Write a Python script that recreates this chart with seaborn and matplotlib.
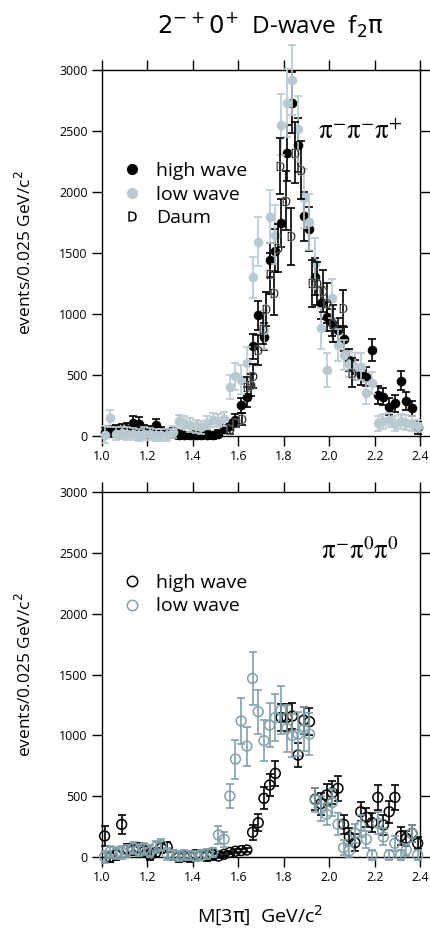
import matplotlib
matplotlib.use("Agg")
import matplotlib.pyplot as plt
import seaborn as sns
from matplotlib.lines import Line2D

# ---------------- data ----------------
mass = [1.0125, 1.0375, 1.0625, 1.0875, 1.1125, 1.1375, 1.1625, 1.1875, 1.2125, 1.2375,
        1.2625, 1.2875, 1.3125, 1.3375, 1.3625, 1.3875, 1.4125, 1.4375, 1.4625, 1.4875,
        1.5125, 1.5375, 1.5625, 1.5875, 1.6125, 1.6375, 1.6625, 1.6875, 1.7125, 1.7375,
        1.7625, 1.7875, 1.8125, 1.8375, 1.8625, 1.8875, 1.9125, 1.9375, 1.9625, 1.9875,
        2.0125, 2.0375, 2.0625, 2.0875, 2.1125, 2.1375, 2.1625, 2.1875, 2.2125, 2.2375,
        2.2625, 2.2875, 2.3125, 2.3375, 2.3625, 2.3875]

# pi- pi- pi+  (top panel)
top_high = [30, 40, 45, 50, 60, 110, 100, 45, 40, 90,
            30, 20, 25, 10, 5, 5, 10, 5, 10, 5,
            20, 60, 90, 130, 250, 320, 735, 990, 815, 1443,
            1520, 1745, 2320, 2730, 2385, 1800, 1700, 1306, 1088, 978,
            930, 869, 793, 623, 540, 500, 486, 705, 336, 322,
            240, 268, 453, 287, 227, 70]
top_high_err = [40, 45, 45, 45, 50, 55, 55, 45, 45, 50,
                45, 40, 40, 35, 30, 30, 30, 30, 30, 30,
                30, 35, 40, 50, 60, 80, 100, 120, 110, 140,
                180, 200, 230, 250, 220, 200, 180, 150, 130, 120,
                110, 100, 100, 90, 80, 80, 80, 90, 70, 70,
                70, 70, 80, 70, 60, 50]
top_low = [10, 145, 20, 25, 20, 15, 10, 20, 15, 10,
           10, 5, 30, 120, 110, 90, 80, 70, 110, 130,
           125, 140, 400, 490, 460, 600, 1300, 1593, 870, 1798,
           1650, 2549, 2727, 2918, 2514, 1948, 1757, 1415, 882, 541,
           1128, 746, 664, 590, 568, 568, 350, 437, 104, 120,
           130, 100, 120, 110, 100, 80]
top_low_err = [70, 70, 50, 50, 50, 50, 50, 50, 50, 50,
               50, 50, 50, 55, 55, 55, 55, 55, 55, 55,
               55, 55, 100, 110, 120, 130, 170, 200, 160, 220,
               240, 250, 280, 290, 270, 240, 230, 210, 170, 140,
               160, 130, 120, 110, 110, 110, 90, 90, 60, 60,
               60, 60, 60, 60, 60, 50]
daum_mass = [1.565, 1.59, 1.615, 1.64, 1.655, 1.665, 1.685, 1.71, 1.72, 1.74,
             1.755, 1.775, 1.785, 1.81, 1.83, 1.85, 1.875, 1.925, 1.945, 1.97,
             1.99, 2.015, 2.06, 2.1]
daum = [60, 110, 140, 400, 420, 490, 705, 880, 1040, 1330,
        1170, 1540, 2210, 1930, 1635, 2320, 2180, 1250, 1250, 1190,
        1090, 920, 1050, 520]
daum_err = [40, 40, 50, 80, 90, 100, 120, 130, 140, 170,
            180, 200, 230, 240, 230, 250, 240, 190, 180, 170,
            160, 150, 150, 120]

# pi- pi0 pi0  (bottom panel)
bot_high = [175, 0, 20, 270, 70, 60, 80, 50, 20, 40,
            75, 85, 20, 0, 10, 5, 20, 15, 10, 20,
            10, 25, 40, 50, 55, 60, 205, 284, 484, 593,
            689, 1148, 1148, 1159, 839, 1126, 1113, 476, 440, 511,
            530, 566, 271, 169, 120, 374, 328, 284, 492, 265,
            374, 492, 175, 156, 197, 115]
bot_high_err = [80, 40, 40, 80, 40, 40, 40, 40, 40, 40,
                40, 40, 40, 40, 40, 40, 40, 40, 40, 40,
                15, 15, 15, 15, 15, 15, 60, 70, 90, 90,
                100, 110, 110, 110, 100, 110, 110, 90, 90, 90,
                95, 100, 80, 70, 70, 80, 80, 80, 100, 80,
                90, 100, 70, 60, 70, 50]
bot_low = [5, 45, 35, 40, 55, 75, 60, 70, 50, 85,
           100, 30, 20, 10, 20, 15, 10, 20, 30, 40,
           183, 148, 503, 806, 1119, 913, 1468, 1195, 957, 1085,
           1148, 1208, 1058, 1000, 1010, 1050, 1011, 470, 400, 353,
           450, 271, 79, 54, 197, 260, 148, 19, 280, 167,
           19, 115, 19, 60, 195, 19]
bot_low_err = [50, 50, 50, 50, 50, 50, 50, 50, 50, 50,
               50, 50, 40, 40, 40, 40, 40, 40, 40, 40,
               70, 60, 100, 160, 190, 160, 220, 180, 170, 180,
               190, 200, 190, 180, 180, 180, 170, 100, 100, 90,
               110, 90, 60, 50, 80, 90, 70, 40, 90, 70,
               40, 60, 40, 50, 70, 40]

x_ticks = [1.0, 1.2, 1.4, 1.6, 1.8, 2.0, 2.2, 2.4]
x_tick_labels = ["1.0", "1.2", "1.4", "1.6", "1.8", "2.0", "2.2", "2.4"]
y_ticks = [0, 500, 1000, 1500, 2000, 2500, 3000]
y_tick_labels = ["0", "500", "1000", "1500", "2000", "2500", "3000"]

# ---------------- style ----------------
sns.set_style("ticks")
plt.rcParams["font.family"] = ["Open Sans", "DejaVu Sans"]
plt.rcParams["axes.linewidth"] = 1.0
plt.rcParams["text.color"] = "black"
plt.rcParams["axes.labelcolor"] = "black"
plt.rcParams["xtick.color"] = "black"
plt.rcParams["ytick.color"] = "black"

BLACK = "#000000"
LIGHT = "#b9c9d1"
SLATE = "#82a0aa"

fig = plt.figure(figsize=(4.31, 9.39), dpi=100)
ax1 = fig.add_axes([0.236, 0.5357, 0.7396, 0.3898])
ax2 = fig.add_axes([0.236, 0.0870, 0.7396, 0.3893])


def errs(ax, x, y, e, c, z):
    ax.errorbar(x, y, yerr=e, fmt="none", ecolor=c, elinewidth=1.2,
                capsize=3.2, capthick=1.2, zorder=z, clip_on=False)


# top panel
errs(ax1, mass, top_high, top_high_err, BLACK, 2)
sns.scatterplot(x=mass, y=top_high, ax=ax1, color=BLACK, s=48, linewidth=0,
                zorder=3, legend=False, clip_on=False)
errs(ax1, mass, top_low, top_low_err, LIGHT, 4)
sns.scatterplot(x=mass, y=top_low, ax=ax1, color=LIGHT, s=48, linewidth=0,
                zorder=5, legend=False, clip_on=False)
errs(ax1, daum_mass, daum, daum_err, BLACK, 6)
sns.scatterplot(x=daum_mass, y=daum, ax=ax1, color=BLACK, marker=r"$\mathsf{D}$",
                s=45, linewidth=0.2, zorder=7, legend=False, clip_on=False)

# bottom panel
errs(ax2, mass, bot_high, bot_high_err, BLACK, 2)
sns.scatterplot(x=mass, y=bot_high, ax=ax2, color=BLACK, facecolor="none",
                edgecolor=BLACK, s=50, linewidth=1.1, zorder=3, legend=False,
                clip_on=False)
errs(ax2, mass, bot_low, bot_low_err, SLATE, 4)
sns.scatterplot(x=mass, y=bot_low, ax=ax2, color=SLATE, facecolor="none",
                edgecolor=SLATE, s=50, linewidth=1.1, zorder=5, legend=False,
                clip_on=False)

for ax in (ax1, ax2):
    ax.set_xlim(1.0, 2.4)
    ax.set_ylim(0, 3000)
    ax.set_xticks(x_ticks)
    ax.set_xticklabels(x_tick_labels)
    ax.set_yticks(y_ticks)
    ax.set_yticklabels(y_tick_labels)
    ax.tick_params(direction="out", length=7, width=1.0, top=True, right=True,
                   labelsize=9, pad=3, colors="black")
    for s in ax.spines.values():
        s.set_visible(True)
        s.set_color("black")
    ax.set_xlabel("")
    ax.set_ylabel("events/0.025 GeV/c$^2$", fontsize=12.5, math_fontfamily="dejavusans")
    ax.yaxis.set_label_coords(-0.21, 0.5)

# legends
leg_kw = dict(loc="upper left", frameon=False, fontsize=14, handlelength=0.9,
              handletextpad=0.8, labelspacing=0.28, borderpad=0, borderaxespad=0)
h_top = [Line2D([], [], ls="none", marker="o", color=BLACK, markersize=7),
         Line2D([], [], ls="none", marker="o", color=LIGHT, markersize=7),
         Line2D([], [], ls="none", marker=r"$\mathsf{D}$", color=BLACK, markersize=7,
                markeredgewidth=0.2)]
ax1.legend(h_top, ["high wave", "low wave", "Daum"], bbox_to_anchor=(0.068, 0.748),
           **leg_kw)

h_bot = [Line2D([], [], ls="none", marker="o", markerfacecolor="none",
                markeredgecolor=BLACK, markersize=7.5, markeredgewidth=1.1),
         Line2D([], [], ls="none", marker="o", markerfacecolor="none",
                markeredgecolor=SLATE, markersize=7.5, markeredgewidth=1.1)]
ax2.legend(h_bot, ["high wave", "low wave"], bbox_to_anchor=(0.068, 0.775), **leg_kw)

# channel labels
ax1.text(0.81, 0.83, r"$\mathrm{\pi}^{-}\mathrm{\pi}^{-}\mathrm{\pi}^{+}$",
         transform=ax1.transAxes, fontsize=19.5, ha="center", va="center",
         math_fontfamily="stix")
ax2.text(0.81, 0.835, r"$\mathrm{\pi}^{-}\mathrm{\pi}^{0}\mathrm{\pi}^{0}$",
         transform=ax2.transAxes, fontsize=19.5, ha="center", va="center",
         math_fontfamily="stix")

# title and x label
fig.text(0.626, 0.973, r"$2^{-+}0^{+}$  D-wave  f$_2\mathrm{\pi}$", fontsize=17.5,
         ha="center", va="center", math_fontfamily="dejavusans")
fig.text(0.603, 0.0245, r"M[3$\mathrm{\pi}$]  GeV/c$^2$", fontsize=14, ha="center",
         va="center", math_fontfamily="dejavusans")

fig.savefig("out.png", dpi=100)
